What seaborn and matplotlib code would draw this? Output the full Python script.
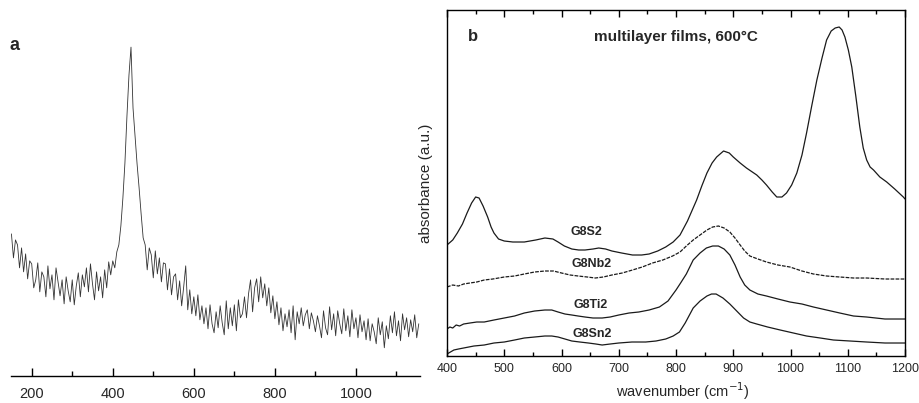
import numpy as np
import pandas as pd
import seaborn as sns
import matplotlib.pyplot as plt
from matplotlib.ticker import MultipleLocator

sns.set_style("white")
plt.rcParams['font.family'] = ['Liberation Sans', 'DejaVu Sans']

# Panel a: Raman-like spectrum, sampled every 5 cm-1 from 150 to 1155
raman_wn = np.arange(150, 1156, 5)
raman_int = [
    142, 118, 136, 131, 108, 128, 104, 122, 97, 115,
    112, 88, 96, 113, 84, 104, 99, 79, 110, 87,
    101, 76, 108, 94, 80, 96, 72, 99, 85, 74,
    96, 71, 90, 103, 79, 101, 89, 108, 84, 112,
    92, 76, 104, 85, 99, 78, 106, 88, 114, 101,
    115, 108, 124, 131, 150, 178, 213, 260, 301, 329,
    268, 240, 212, 188, 162, 138,
    131, 106, 128, 121, 98, 125, 102, 118, 94, 113,
    112, 86, 107, 81, 99, 102, 76, 95, 70, 89,
    110, 66, 86, 62, 79, 60, 81, 56, 70, 52,
    68, 47, 71, 52, 43, 64, 48, 70, 53, 41,
    75, 47, 68, 50, 71, 45, 76, 58, 62, 79,
    58, 82, 96, 64, 88, 97, 74, 99, 78, 92,
    70, 88, 63, 80, 57, 74, 51, 68, 45, 62,
    49, 66, 43, 70, 36, 64, 52, 68, 50, 61,
    66, 47, 63, 55, 44, 60, 50, 38, 65, 48,
    41, 69, 46, 62, 40, 65, 52, 42, 67, 45,
    60, 39, 66, 47, 58, 38, 61, 44, 55, 36,
    57, 35, 52, 44, 32, 58, 41, 54, 28, 50,
    37, 60, 43, 64, 40, 55, 35, 62, 46, 58,
    39, 56, 44, 61, 38, 52,
]

# Panel b: absorbance spectra of multilayer films
s2_wn = [400, 410, 418, 427, 435, 443, 450, 456, 463, 471, 477, 482, 490, 500, 515,
         535, 555, 571, 585, 594, 605, 618, 630, 641, 655, 665, 677, 688, 705, 724,
         740, 753, 768, 782, 795, 807, 820, 836, 845, 854, 863, 871, 883, 893, 900,
         912, 923, 941, 950, 958, 968, 976, 985, 993, 1002, 1011, 1020, 1028, 1037,
         1046, 1055, 1063, 1071, 1078, 1085, 1090, 1095, 1101, 1107, 1114, 1121,
         1127, 1133, 1139, 1145, 1156, 1168, 1182, 1197, 1200]
s2_abs = [111, 116, 123, 132, 143, 153, 159, 158, 150, 139, 129, 123, 117, 115, 114,
          114, 116, 118, 117, 114, 110, 107, 106, 106, 107, 108, 107, 105, 103, 101,
          101, 102, 105, 109, 114, 121, 135, 156, 170, 183, 193, 199, 205, 203, 199,
          193, 188, 181, 176, 171, 164, 159, 159, 163, 171, 183, 201, 223, 250,
          276, 298, 316, 325, 328, 329, 326, 319, 306, 289, 260, 229,
          208, 196, 189, 186, 179, 174, 167, 159, 157]

nb2_wn = [400, 410, 420, 429, 440, 452, 465, 480, 500, 518, 535, 553, 571, 586, 600,
          615, 629, 645, 659, 673, 688, 706, 724, 741, 759, 777, 794, 807, 818, 830,
          842, 854, 864, 874, 884, 894, 903, 912, 920, 929, 943, 958, 978, 999, 1020,
          1040, 1063, 1086, 1110, 1133, 1165, 1197, 1200]
nb2_abs = [69, 71, 70, 72, 73, 74, 76, 77, 79, 80, 82, 84, 85, 85, 83,
           81, 80, 79, 78, 79, 81, 83, 86, 89, 93, 96, 100, 104, 110, 116,
           121, 126, 129, 130, 128, 124, 118, 111, 105, 100, 97, 94, 91, 89, 85,
           82, 80, 79, 78, 78, 77, 77, 77]

ti2_wn = [400, 405, 410, 416, 422, 429, 440, 452, 465, 482, 500, 518, 535, 553, 571,
          583, 594, 606, 618, 629, 641, 655, 671, 685, 700, 718, 735, 753, 771, 786,
          800, 808, 818, 830, 842, 853, 864, 874, 884, 894, 903, 912, 920, 929, 943,
          958, 978, 999, 1020, 1040, 1063, 1086, 1110, 1133, 1165, 1197, 1200]
ti2_abs = [27, 29, 28, 31, 30, 32, 33, 34, 34, 36, 38, 40, 43, 45, 46,
           46, 44, 42, 41, 40, 39, 38, 38, 39, 41, 43, 44, 46, 49, 55,
           66, 73, 82, 96, 103, 108, 110, 110, 107, 101, 91, 79, 71, 66, 62,
           60, 57, 54, 52, 49, 46, 43, 40, 39, 37, 37, 37]

sn2_wn = [400, 406, 412, 420, 429, 447, 465, 482, 500, 518, 535, 553, 571, 583, 594,
          606, 618, 632, 647, 660, 671, 685, 700, 723, 747, 765, 782, 795, 806, 816,
          830, 842, 854, 862, 870, 882, 894, 906, 918, 929, 941, 960, 982, 1005, 1028,
          1052, 1075, 1104, 1133, 1165, 1197, 1200]
sn2_abs = [2, 4, 6, 7, 8, 10, 11, 13, 14, 16, 18, 19, 20, 20, 19,
           17, 15, 14, 13, 12, 11, 12, 13, 14, 14, 15, 17, 20, 24, 33,
           48, 55, 60, 62, 62, 58, 52, 45, 38, 34, 32, 29, 26, 23, 20,
           18, 16, 15, 14, 13, 13, 13]

sample_names = ['G8S2', 'G8Nb2', 'G8Ti2', 'G8Sn2']
label_pos_wn = [644, 653, 651, 653]
label_pos_abs = [124, 92, 51, 22]

fig = plt.figure(figsize=(9.19, 4.03), dpi=100)

# ---- panel a
ax_a = fig.add_axes([0.012, 0.0677, 0.445, 0.907])
df_a = pd.DataFrame({'wn': raman_wn, 'I': raman_int})
sns.lineplot(data=df_a, x='wn', y='I', ax=ax_a, color='#333333', lw=0.6,
             estimator=None)
ax_a.set_xlim(149, 1158)
ax_a.set_ylim(0, 366)
ax_a.xaxis.set_major_locator(MultipleLocator(200))
ax_a.xaxis.set_minor_locator(MultipleLocator(100))
ax_a.tick_params(axis='x', which='both', direction='in', bottom=True, top=False,
                 labelsize=10.5, pad=8, width=1.0, color='k')
ax_a.tick_params(axis='x', which='major', length=6)
ax_a.tick_params(axis='x', which='minor', length=3.5)
ax_a.tick_params(axis='y', left=False, labelleft=False)
ax_a.set_xlabel('')
ax_a.set_ylabel('')
sns.despine(ax=ax_a, left=True)
ax_a.spines['bottom'].set_linewidth(1.0)
ax_a.spines['bottom'].set_color('k')
fig.text(0.016, 0.886, 'a', fontsize=13, fontweight='bold', ha='center', va='center')

# ---- panel b
ax_b = fig.add_axes([0.4864, 0.1166, 0.4984, 0.8586])
curves = [(s2_wn, s2_abs, '-'), (nb2_wn, nb2_abs, (0, (3, 1))),
          (ti2_wn, ti2_abs, '-'), (sn2_wn, sn2_abs, '-')]
for (wn, ab, ls), name in zip(curves, sample_names):
    sns.lineplot(x=wn, y=ab, ax=ax_b, color='#1a1a1a', lw=0.9, linestyle=ls,
                 estimator=None, sort=False)
for name, xw, ya in zip(sample_names, label_pos_wn, label_pos_abs):
    ax_b.text(xw, ya, name, fontsize=9, fontweight='bold', ha='center', va='center')

ax_b.set_xlim(400, 1200)
ax_b.set_ylim(0, 346)
ax_b.xaxis.set_major_locator(MultipleLocator(100))
ax_b.xaxis.set_minor_locator(MultipleLocator(50))
ax_b.tick_params(axis='x', which='both', direction='in', bottom=True, top=True,
                 labelsize=9, pad=5, width=1.0, color='k')
ax_b.tick_params(axis='x', which='major', length=5)
ax_b.tick_params(axis='x', which='minor', length=3)
ax_b.tick_params(axis='y', left=False, labelleft=False)
for sp in ax_b.spines.values():
    sp.set_linewidth(1.0)
    sp.set_color('k')
ax_b.set_xlabel('wavenumber (cm$^{-1}$)', fontsize=10.5)
ax_b.xaxis.set_label_coords(0.515, -0.103)
ax_b.xaxis.label.set_va('center')
ax_b.set_ylabel('absorbance (a.u.)', fontsize=11)
ax_b.yaxis.set_label_coords(-0.03, 0.5)
ax_b.text(0.057, 0.922, 'b', transform=ax_b.transAxes, fontsize=12,
          fontweight='bold', ha='center', va='center')
ax_b.text(0.5, 0.922, 'multilayer films, 600°C', transform=ax_b.transAxes,
          fontsize=11, fontweight='bold', ha='center', va='center')

fig.savefig('out.png', dpi=100)
